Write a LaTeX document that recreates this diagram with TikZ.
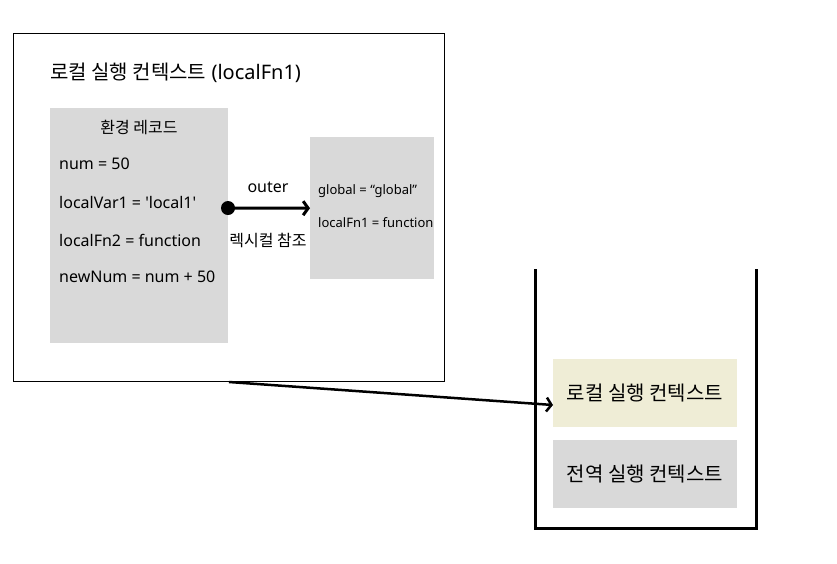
\documentclass[tikz,border=0pt]{standalone}
\usepackage{fontspec}
\setmainfont{Noto Sans}[Ligatures=TeXOff]
\newfontfamily\kr{Noto Sans CJK KR}
\usetikzlibrary{arrows.meta}
\definecolor{boxgray}{HTML}{D9D9D9}
\definecolor{boxyellow}{HTML}{EFEDD6}
\begin{document}
\begin{tikzpicture}[x=1pt,y=-1pt,
  region/.style={draw=black,line width=1pt,fill=white,inner sep=0pt,anchor=north west},
  graybox/.style={fill=boxgray,draw=none,inner sep=0pt,anchor=north west},
  stackitem/.style={draw=none,inner sep=0pt,minimum width=184pt,minimum height=68pt,font=\kr\fontsize{20}{22}\selectfont},
  line/.style={anchor=west,inner sep=0pt,font=\fontsize{16}{18}\selectfont},
  small/.style={anchor=west,inner sep=0pt,font=\fontsize{13}{15}\selectfont},
  lbl/.style={inner sep=0pt,font=\fontsize{16}{18}\selectfont},
  conn/.style={line width=3pt,-{Straight Barb[length=5pt,width=14pt,line width=3pt]}},
  bigconn/.style={line width=2.5pt,-{Straight Barb[length=5pt,width=14pt,line width=2.5pt]}},
  wall/.style={line width=3pt,line cap=butt}
]
\useasboundingbox[fill=white] (0,0) rectangle (837,563);

% local execution context frame
\node[region,minimum width=431pt,minimum height=348pt] (ctx) at (13,33) {};
\node[anchor=west,inner sep=0pt,font=\fontsize{20}{22}\selectfont] (title) at (50,73) {{\kr 로컬 실행 컨텍스트} (localFn1)};

% environment record
\node[graybox,minimum width=178pt,minimum height=235pt] (env) at (50,108) {};
\node[inner sep=0pt,font=\kr\fontsize{16}{18}\selectfont] (envtitle) at (139,127) {환경 레코드};
\node[line] (l1) at (59,164) {num = 50};
\node[line] (l2) at (59,202) {localVar1 = 'local1'};
\node[line] (l3) at (59,240) {localFn2 = function};
\node[line] (l4) at (59,277) {newNum = num + 50};

% outer environment
\node[graybox,minimum width=124pt,minimum height=142pt] (outer) at (310,137) {};
\node[small] (g1) at (318,191) {global = “global”};
\node[small] (g2) at (318,223) {localFn1 = function};

% outer reference
\coordinate (dot) at (228,208);
\fill (dot) circle (7pt);
\draw[conn] (dot) -- (outer.west);
\node[lbl] (outerlbl) at (268,187) {outer};
\node[lbl,font=\kr\fontsize{16}{18}\selectfont] (lexlbl) at (268,240) {렉시컬 참조};

% call stack
\coordinate (wl) at (535,269);
\coordinate (wr) at (756,269);
\draw[wall] (wl) -- (535,528) -- (756,528) -- (wr);
\node[stackitem,fill=boxyellow] (local) at (645,393) {로컬 실행 컨텍스트};
\node[stackitem,fill=boxgray] (global) at (645,474) {전역 실행 컨텍스트};

% push arrow
\coordinate (from) at (229,382);
\coordinate (to) at (553,405);
\draw[bigconn] (from) -- (to);
\end{tikzpicture}
\end{document}
